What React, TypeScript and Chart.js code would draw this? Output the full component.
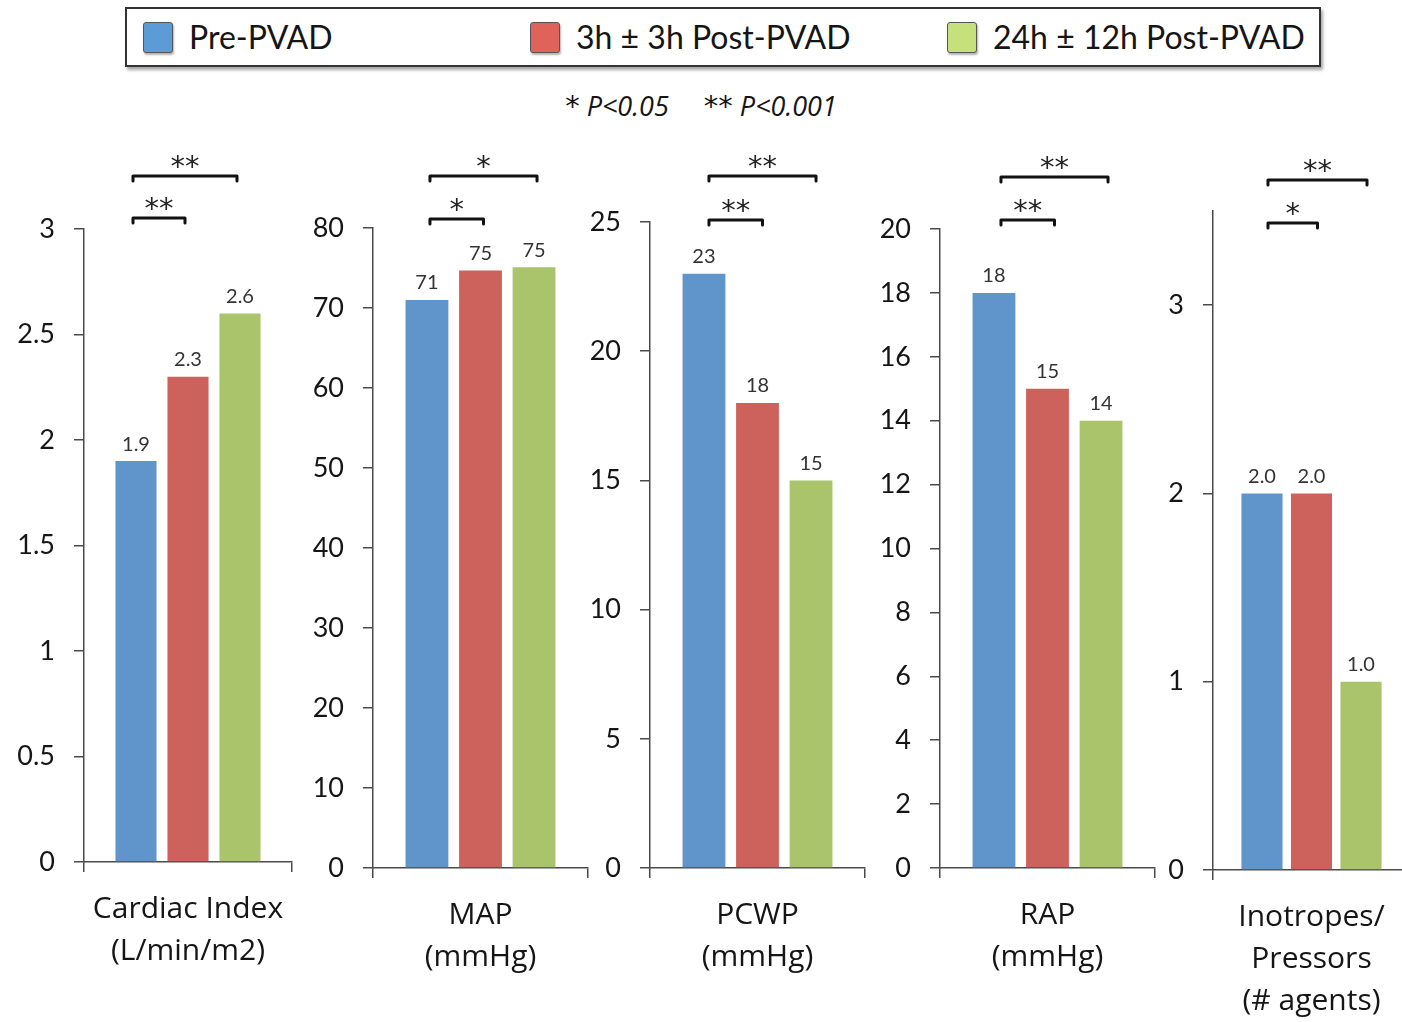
import React, { useEffect, useRef } from "react";
import { Chart, registerables } from "chart.js";

Chart.register(...registerables);

// ---------- data ----------
const seriesNames = ["Pre-PVAD", "3h \u00b1 3h Post-PVAD", "24h \u00b1 12h Post-PVAD"];

const cardiacIndex = [1.9, 2.3, 2.6];
const meanArterialPressure = [71, 74.7, 75.1];
const pcwp = [23, 18, 15];
const rap = [18, 15, 14];
const pressorAgents = [2.0, 2.0, 1.0];

const cardiacLabel = ["Cardiac Index", "(L/min/m2)"];
const mapLabel = ["MAP", "(mmHg)"];
const pcwpLabel = ["PCWP", "(mmHg)"];
const rapLabel = ["RAP", "(mmHg)"];
const pressorLabel = ["Inotropes/", "Pressors", "(# agents)"];

const yMaxima = [3, 80, 25, 20, 3.5];
const yStepSizes = [0.5, 10, 5, 2, 1];
const labelDecimals = [1, 0, 0, 0, 1];

// significance: [pre vs 3h, pre vs 24h]
const significance = [
  ["**", "**"],
  ["*", "*"],
  ["**", "**"],
  ["**", "**"],
  ["*", "**"],
];

const pValueParts = [
  ["*", " P<0.05     "],
  ["**", " P<0.001"],
];

const panelValues = [cardiacIndex, meanArterialPressure, pcwp, rap, pressorAgents];
const panelLabels = [cardiacLabel, mapLabel, pcwpLabel, rapLabel, pressorLabel];

// ---------- styles / layout ----------
const FONT = "Lato, 'Open Sans', sans-serif";
const LABEL_FONT = "'Open Sans', Lato, sans-serif";
const STAR_FONT = "'DejaVu Sans', sans-serif";
const BAR_COLORS = ["#5F95CA", "#CC625B", "#A9C46B"];
const SWATCH_COLORS = ["#5B9BD6", "#DF625B", "#C6E17C"];
const AXIS_COLOR = "#4a4a4a";
const PAGE_H = 1022;
const Y_AXIS_W = 90;
const RIGHT_PAD = 30;

const layouts = [
  { axisX: 84, xEnd: 292, yTop: 229, yBottom: 862, lowY: 218, upY: 176, cp: 0.75, bp: 0.79, bdx: -3 },
  { axisX: 373, xEnd: 588, yTop: 228, yBottom: 868, lowY: 219, upY: 176, cp: 0.747, bp: 0.8, bdx: 3 },
  { axisX: 650, xEnd: 865, yTop: 222, yBottom: 868, lowY: 220, upY: 176, cp: 0.747, bp: 0.8, bdx: 5 },
  { axisX: 940, xEnd: 1155, yTop: 229, yBottom: 868, lowY: 220, upY: 177, cp: 0.747, bp: 0.8, bdx: 7 },
  { axisX: 1213, xEnd: 1410, yTop: 211, yBottom: 870, lowY: 223, upY: 180, cp: 0.754, bp: 0.83, bdx: 6 },
];

const legendItemLefts = [143, 530, 947];

function Panel({ index }: { index: number }) {
  const ref = useRef<HTMLCanvasElement | null>(null);
  const L = layouts[index];
  const left = L.axisX - Y_AXIS_W;
  const width = L.xEnd - L.axisX + Y_AXIS_W + RIGHT_PAD;

  useEffect(() => {
    if (!ref.current) return;
    const values = panelValues[index];
    const decimals = labelDecimals[index];
    const sig = significance[index];

    const valueLabels = {
      id: "valueLabels" + index,
      afterDatasetsDraw(chart: any) {
        const ctx = chart.ctx;
        ctx.save();
        ctx.font = `20px ${FONT}`;
        ctx.fillStyle = "#333";
        ctx.textAlign = "center";
        ctx.textBaseline = "bottom";
        chart.data.datasets.forEach((ds: any, di: number) => {
          const meta = chart.getDatasetMeta(di);
          meta.data.forEach((el: any, i: number) => {
            const v = ds.data[i] as number;
            ctx.fillText(v.toFixed(decimals), el.x, el.y - 7);
          });
        });
        ctx.restore();
      },
    };

    const brackets = {
      id: "brackets" + index,
      afterDraw(chart: any) {
        const ctx = chart.ctx;
        const x0 = chart.getDatasetMeta(0).data[0].x + L.bdx;
        const x1 = chart.getDatasetMeta(1).data[0].x + L.bdx;
        const x2 = chart.getDatasetMeta(2).data[0].x + L.bdx;
        const draw = (a: number, b: number, y: number, star: string) => {
          ctx.save();
          ctx.strokeStyle = "#111";
          ctx.lineWidth = 3;
          ctx.lineCap = "round";
          ctx.lineJoin = "round";
          ctx.beginPath();
          ctx.moveTo(a, y + 5);
          ctx.lineTo(a, y);
          ctx.lineTo(b, y);
          ctx.lineTo(b, y + 5);
          ctx.stroke();
          ctx.font = `29px ${STAR_FONT}`;
          ctx.fillStyle = "#222";
          ctx.textAlign = "center";
          ctx.textBaseline = "alphabetic";
          ctx.fillText(star, (a + b) / 2, y);
          ctx.restore();
        };
        draw(x0, x1, L.lowY, sig[0]);
        draw(x0, x2, L.upY, sig[1]);
      },
    };

    const chart = new Chart(ref.current, {
      type: "bar",
      data: {
        labels: [panelLabels[index]],
        datasets: seriesNames.map((name, si) => ({
          label: name,
          data: [values[si]],
          backgroundColor: BAR_COLORS[si],
          borderWidth: 0,
        })),
      },
      options: {
        responsive: false,
        animation: false,
        devicePixelRatio: 1,
        layout: { padding: { top: L.yTop, right: RIGHT_PAD, left: 0, bottom: 0 } },
        plugins: { legend: { display: false }, tooltip: { enabled: false } },
        datasets: { bar: { categoryPercentage: L.cp, barPercentage: L.bp } },
        scales: {
          x: {
            offset: true,
            grid: {
              display: true,
              drawOnChartArea: false,
              drawTicks: true,
              tickLength: 10,
              color: AXIS_COLOR,
              lineWidth: 1.5,
              offset: true,
            },
            border: { display: true, color: AXIS_COLOR, width: 1.5 },
            ticks: {
              font: { size: 30, family: LABEL_FONT, lineHeight: 1.4 },
              color: "#151515",
              padding: 16,
              maxRotation: 0,
              autoSkip: false,
            },
            afterFit: (s: any) => {
              s.height = PAGE_H - L.yBottom;
            },
          },
          y: {
            min: 0,
            max: yMaxima[index],
            grid: {
              drawOnChartArea: false,
              drawTicks: true,
              tickLength: 10,
              color: AXIS_COLOR,
              lineWidth: 1.5,
            },
            border: { display: true, color: AXIS_COLOR, width: 1.5 },
            ticks: {
              stepSize: yStepSizes[index],
              includeBounds: false,
              font: { size: 27, family: FONT },
              color: "#151515",
              padding: 19,
              callback: (v: any) => String(v),
            },
            afterFit: (s: any) => {
              s.width = Y_AXIS_W;
            },
          },
        },
      } as any,
      plugins: [valueLabels, brackets],
    });
    return () => chart.destroy();
  }, [index]);

  return (
    <canvas
      ref={ref}
      width={width}
      height={PAGE_H}
      style={{ position: "absolute", left, top: 0, width, height: PAGE_H }}
    />
  );
}

export default function App() {
  return (
    <div
      style={{
        position: "absolute",
        left: 0,
        top: 0,
        width: 1402,
        height: PAGE_H,
        overflow: "hidden",
        background: "#fff",
        fontFamily: FONT,
      }}
    >
      <div
        style={{
          position: "absolute",
          left: 125,
          top: 7,
          width: 1192,
          height: 56,
          border: "2px solid #333",
          boxShadow: "2px 3px 3px rgba(0,0,0,0.35)",
          background: "#fff",
        }}
      />
      {seriesNames.map((name, i) => (
        <div key={name}>
          <div
            style={{
              position: "absolute",
              left: legendItemLefts[i],
              top: 22,
              width: 28,
              height: 29,
              background: SWATCH_COLORS[i],
              border: "1.5px solid #555",
              borderRadius: 3,
              boxShadow: "1px 2px 2px rgba(0,0,0,0.3)",
            }}
          />
          <div
            style={{
              position: "absolute",
              left: legendItemLefts[i] + 46,
              top: 16,
              fontSize: 32,
              lineHeight: "42px",
              color: "#151515",
              whiteSpace: "nowrap",
            }}
          >
            {name}
          </div>
        </div>
      ))}
      <div
        style={{
          position: "absolute",
          left: 0,
          width: 1402,
          top: 88,
          textAlign: "center",
          fontSize: 27,
          fontFamily: LABEL_FONT,
          fontStyle: "italic",
          lineHeight: "36px",
          whiteSpace: "pre",
          color: "#151515",
        }}
      >
        {pValueParts.map(([star, text], i) => (
          <span key={i}>
            <span style={{ fontFamily: STAR_FONT, fontSize: 29 }}>{star}</span>
            {text}
          </span>
        ))}
      </div>
      {layouts.map((_, i) => (
        <Panel key={i} index={i} />
      ))}
    </div>
  );
}
